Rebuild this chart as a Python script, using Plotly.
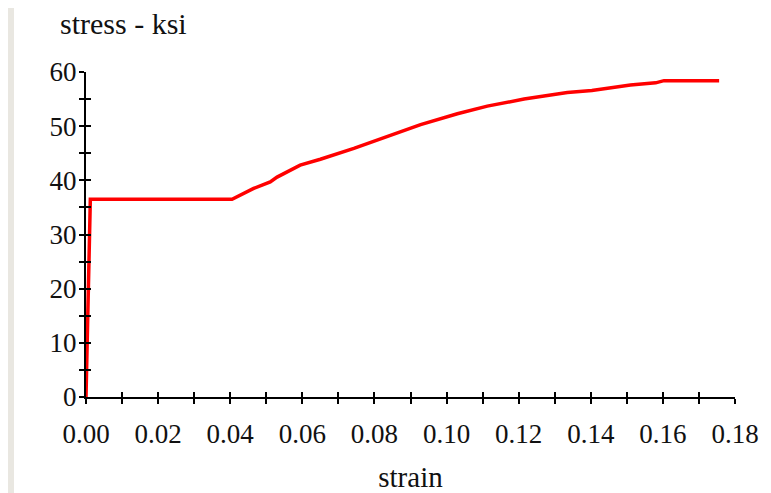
import plotly.graph_objects as go

strain = [0.0, 0.0012, 0.0405, 0.0428, 0.0465, 0.0511, 0.0530, 0.0594, 0.065, 0.0743, 0.0844,
          0.0928, 0.103, 0.1113, 0.1215, 0.1335, 0.1403, 0.1458, 0.151, 0.158, 0.1603, 0.1756]
stress = [0.0, 36.5, 36.5, 37.3, 38.5, 39.7, 40.6, 42.8, 43.9, 45.9, 48.3,
          50.3, 52.3, 53.7, 55.0, 56.2, 56.6, 57.1, 57.6, 58.0, 58.4, 58.4]

x_tickvals = [0.00, 0.02, 0.04, 0.06, 0.08, 0.10, 0.12, 0.14, 0.16, 0.18]
x_ticktext = ["0.00", "0.02", "0.04", "0.06", "0.08", "0.10", "0.12", "0.14", "0.16", "0.18"]
y_tickvals = [0, 10, 20, 30, 40, 50, 60]

FONT = "Liberation Serif, Times New Roman, serif"
OFF = 8  # page body margin
W, H = 771 - OFF, 493 - OFF
L, T = 86 - OFF, 72 - OFF
R = W - (735 - OFF)
B = H - (397 - OFF)
pw, ph = W - L - R, H - T - B

fig = go.Figure()
fig.add_trace(go.Scatter(x=strain, y=stress, mode="lines",
                         line=dict(color="#ff0000", width=3.5), showlegend=False))
# invisible trace on overlay axes so they render
fig.add_trace(go.Scatter(x=[0], y=[0], xaxis="x2", yaxis="y2", mode="markers",
                         marker=dict(opacity=0), showlegend=False, hoverinfo="skip"))

common = dict(showgrid=False, zeroline=False, showline=True, linecolor="black", linewidth=2,
              ticks="outside", ticklen=5, tickwidth=2, tickcolor="black", automargin=False,
              tickfont=dict(family=FONT, size=27, color="#111"))

fig.update_layout(
    width=W, height=H,
    margin=dict(l=L, r=R, t=T, b=B, autoexpand=False),
    paper_bgcolor="white", plot_bgcolor="white",
    xaxis=dict(range=[0, 0.18], tickvals=x_tickvals, ticktext=x_ticktext,
               minor=dict(dtick=0.01, tick0=0, ticks="outside", ticklen=5, tickwidth=2, tickcolor="black"),
               ticklabelstandoff=7,
               title=dict(text="strain", font=dict(family=FONT, size=29, color="#111"), standoff=20),
               **common),
    yaxis=dict(range=[0, 60], tickvals=y_tickvals,
               minor=dict(dtick=5, tick0=0, ticks="outside", ticklen=5, tickwidth=2, tickcolor="black"),
               ticklabelstandoff=-3,
               **common),
    xaxis2=dict(overlaying="x", matches="x", range=[0, 0.18], showgrid=False, zeroline=False,
                showticklabels=False, ticks="inside", ticklen=5, tickwidth=2, tickcolor="black",
                dtick=0.01, tick0=0, showline=False, anchor="y2", side="bottom", automargin=False),
    yaxis2=dict(overlaying="y", matches="y", range=[0, 60], showgrid=False, zeroline=False,
                showticklabels=False, ticks="inside", ticklen=5, tickwidth=2, tickcolor="black",
                dtick=5, tick0=0, showline=False, anchor="x2", side="left", automargin=False),
    annotations=[dict(text="stress - ksi", xref="paper", yref="paper",
                      x=(58 - OFF - L) / pw, y=(H - B - (24 - OFF)) / ph, xanchor="left", yanchor="middle",
                      showarrow=False, font=dict(family=FONT, size=30, color="#111"))],
    shapes=[dict(type="rect", xref="paper", yref="paper", x0=-L / pw, x1=(14 - OFF - L) / pw,
                 y0=-B / ph, y1=(H - B) / ph + 0.05, fillcolor="#e9e7e1", line=dict(width=0), layer="below")],
)

fig.write_html("out.html")
